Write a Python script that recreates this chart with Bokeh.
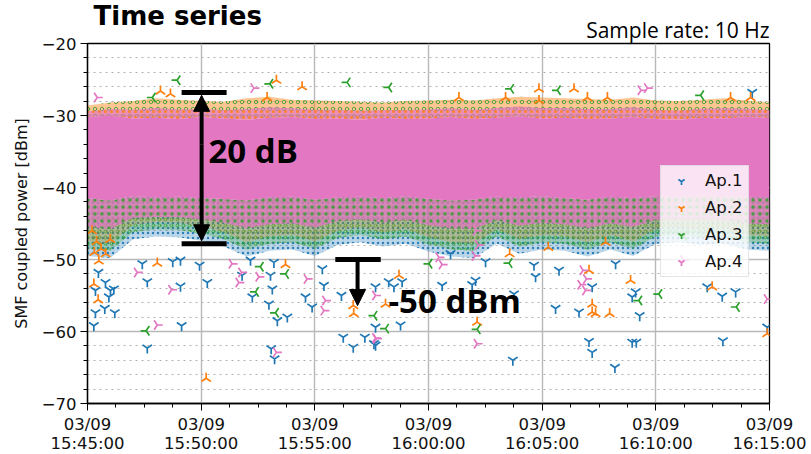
import numpy as np
import pandas as pd
from bokeh.plotting import figure
from bokeh.models import (Range1d, FixedTicker, DatetimeTickFormatter, Arrow, NormalHead,
                          Label, Legend, LegendItem, ColumnDataSource, Title, DatetimeAxis)
from bokeh.embed import file_html
from bokeh.resources import INLINE

# ---------------- data (minutes after 2021-03-09 15:45:00, dBm) ----------------
series_names = ["Ap.1", "Ap.2", "Ap.3", "Ap.4"]
colors = ["#1f77b4", "#ff7f0e", "#2ca02c", "#e377c2"]

# envelope of the dense 10 Hz cloud, sampled every minute
env_t = list(range(31))
core_hi = [-30.2, -30.0, -30.4, -30.3, -30.5, -30.2, -30.4, -30.6, -30.3, -30.2, -30.5,
           -30.4, -30.6, -30.3, -30.5, -30.4, -30.2, -30.5, -30.3, -30.1, -30.4, -30.3,
           -30.5, -30.4, -30.2, -30.5, -30.6, -30.3, -30.4, -30.2, -30.3]
core_lo = [-41.5, -41.8, -41.2, -41.4, -41.3, -41.5, -41.6, -41.8, -41.4, -41.3, -41.7,
           -41.4, -41.3, -41.5, -41.2, -41.6, -41.8, -41.7, -41.3, -41.4, -41.2, -41.5,
           -41.7, -41.3, -41.5, -41.2, -41.3, -41.1, -41.2, -41.3, -41.4]
fringe_hi = [-28.6, -28.2, -28.0, -27.6, -27.8, -28.0, -28.1, -27.6, -27.4, -27.8, -27.9,
             -28.0, -28.1, -28.2, -28.0, -27.9, -27.8, -27.9, -27.6, -27.4, -27.5, -27.6,
             -27.7, -27.8, -27.5, -27.9, -28.0, -27.8, -27.6, -27.9, -28.2]
fringe_lo = [-49.5, -49.8, -47.2, -46.8, -46.9, -47.4, -48.2, -49.6, -48.8, -48.6, -49.5,
             -48.0, -47.6, -48.2, -47.8, -48.9, -49.6, -49.8, -47.8, -49.2, -48.6, -48.8,
             -49.6, -48.6, -49.5, -47.8, -47.6, -47.9, -47.8, -48.6, -48.8]

ap1_t = [2.41, 3.75, 4.09, 4.93, 2.63, 4.09, 5.27, 0.48, 0.79, 1.01, 0.94, 1.16, 0.35, 0.35,
         0.76, 1.20, 0.28, 4.14, 2.63, 6.80, 7.17, 7.25, 8.08, 8.23, 11.25, 11.69, 12.20,
         12.67, 8.20, 8.05, 8.13, 7.98, 8.35, 8.79, 9.59, 9.88, 10.33, 10.40, 11.17, 12.67,
         13.77, 12.60, 12.67, 13.25, 13.48, 13.84, 15.97, 15.60, 17.07, 16.92, 17.51, 18.76,
         18.71, 19.64, 19.71, 20.74, 20.59, 21.62, 22.20, 22.06, 22.20, 23.23, 23.96, 24.11,
         24.29, 27.26, 27.92, 28.51, 23.96, 24.14, 23.20, 27.95, 29.90, 29.24]
ap1_v = [-50.6, -50.3, -50.1, -50.8, -53.1, -53.7, -53.2, -51.8, -53.2, -54.3, -55.2, -54.1,
         -54.3, -57.4, -56.8, -57.4, -59.2, -59.2, -62.3, -52.2, -50.1, -55.2, -62.4, -63.8,
         -60.8, -62.2, -60.8, -61.9, -50.4, -52.2, -54.1, -56.2, -58.5, -58.0, -55.2, -56.6,
         -51.3, -53.6, -55.0, -59.4, -59.1, -61.7, -53.8, -53.1, -53.8, -53.1, -49.2, -53.6,
         -52.9, -53.5, -50.3, -54.8, -64.0, -50.8, -52.4, -51.5, -56.8, -57.3, -53.8, -61.4,
         -62.9, -50.6, -55.2, -54.5, -57.8, -53.8, -55.1, -54.5, -61.5, -61.5, -65.0, -61.3,
         -59.4, -26.8]

ap2_t = [3.07, 0.28, 0.47, 5.22, 8.71, 11.69, 11.71, 13.11, 13.70, 17.14, 18.57, 20.27,
         22.06, 22.20, 22.20, 22.79, 23.89, 22.35, 22.97, 27.48, 29.90, 0.20, 0.40, 0.60,
         0.80, 0.50, 1.00, 0.30, 3.21, 3.65, 8.31, 9.44, 7.90, 19.86, 21.40, 19.86, 21.99,
         29.17, 28.29, 22.87, 16.34, 18.39]
ap2_v = [-50.5, -53.4, -55.6, -66.5, -50.7, -56.4, -57.5, -56.2, -52.2, -58.7, -49.2, -48.3,
         -51.5, -56.2, -57.3, -47.6, -52.9, -57.5, -57.5, -53.8, -60.3, -46.0, -47.5, -48.5,
         -49.2, -50.2, -47.2, -49.0, -26.6, -27.0, -25.1, -26.0, -27.5, -26.3, -26.3, -27.9,
         -27.5, -27.5, -27.5, -27.5, -27.5, -27.5]

ap3_t = [2.58, 7.39, 8.27, 8.71, 12.60, 13.11, 15.02, 17.14, 18.54, 24.25, 25.13, 28.54,
         26.23, 7.60, 3.94, 2.85, 8.02, 11.42, 13.25, 18.61, 20.67, 26.97]
ap3_v = [-59.9, -54.5, -57.4, -52.0, -57.8, -59.6, -50.6, -59.7, -50.5, -55.7, -54.8, -56.6,
         -46.7, -51.0, -25.1, -27.5, -25.6, -25.4, -26.1, -26.3, -26.5, -27.2]

ap4_t = [2.19, 3.70, 3.07, 6.66, 6.36, 6.78, 8.31, 12.71, 7.54, 9.66, 10.40, 10.47, 12.67,
         12.67, 15.46, 15.60, 17.14, 21.91, 26.23, 21.80, 21.95, 21.70, 17.10, 17.20, 17.05,
         29.90, 0.43, 7.32, 24.63, 24.35]
ap4_v = [-51.8, -54.2, -59.1, -53.2, -50.6, -51.8, -62.9, -61.0, -52.4, -52.7, -57.1, -55.7,
         -60.9, -55.0, -49.7, -50.7, -61.7, -54.3, -50.1, -51.5, -52.7, -53.5, -46.0, -48.0,
         -49.5, -55.5, -27.5, -26.2, -26.2, -26.5]

x_tick_min = [0, 5, 10, 15, 20, 25, 30]
y_ticks = [-70, -60, -50, -40, -30, -20]

# ---------------- helpers ----------------
T0_MS = pd.Timestamp("2021-03-09 15:45:00").value / 1e6


def ms(m):
    return T0_MS + np.asarray(m, dtype=float) * 60000.0


def msf(m):
    return float(T0_MS + float(m) * 60000.0)


p = figure(frame_width=682, frame_height=360, x_axis_type="datetime",
           x_range=Range1d(msf(0), msf(30)), y_range=Range1d(-70, -20),
           output_backend="svg", toolbar_location=None,
           min_border_left=87, min_border_right=42, min_border_top=43, min_border_bottom=0)
p.background_fill_color = "white"
p.border_fill_color = "white"
p.outline_line_color = "black"
p.outline_line_width = 1.3

# titles above the frame (stacked: spacer nearest the frame, then sample rate, then title)
p.add_layout(Title(text=" ", standoff=10.3, text_font="Open Sans", text_font_size="1px"), "above")
p.add_layout(Title(text="Sample rate: 10 Hz", align="right", standoff=-29.1, vertical_align="bottom",
                   text_font="Open Sans", text_font_size="21px", text_font_style="normal",
                   text_color="black"), "above")
p.add_layout(Title(text="Time series", align="left", offset=6, standoff=-4.5, vertical_align="bottom",
                   text_font="DejaVu Sans", text_font_size="26px", text_font_style="bold",
                   text_color="black"), "above")

# ticks
xt = FixedTicker(ticks=[msf(m) for m in x_tick_min],
                 minor_ticks=[msf(m) for m in np.arange(0, 30.01, 1.25)])
p.xaxis.ticker = xt
fmt_d = "%m/%d"
fmt_t = "%H:%M:%S"
p.xaxis.formatter = DatetimeTickFormatter(milliseconds=fmt_d, seconds=fmt_d, minsec=fmt_d,
                                          minutes=fmt_d, hourmin=fmt_d, hours=fmt_d, days=fmt_d)
ax2 = DatetimeAxis(ticker=FixedTicker(ticks=[msf(m) for m in x_tick_min], minor_ticks=[]),
                   formatter=DatetimeTickFormatter(milliseconds=fmt_t, seconds=fmt_t, minsec=fmt_t,
                                                   minutes=fmt_t, hourmin=fmt_t, hours=fmt_t,
                                                   days=fmt_t))
ax2.axis_line_color = None
ax2.major_tick_line_color = None
ax2.minor_tick_line_color = None
ax2.major_tick_out = 0
ax2.major_tick_in = 0
ax2.major_label_standoff = -3
ax2.major_label_text_font = "DejaVu Sans"
ax2.major_label_text_font_size = "16.5px"
ax2.major_label_text_color = "#111111"
p.add_layout(ax2, "below")

p.yaxis.ticker = FixedTicker(ticks=y_ticks, minor_ticks=list(range(-70, -19, 2)))
p.yaxis.major_label_overrides = {v: "\u2212%d" % abs(v) for v in y_ticks}

for ax in (p.xaxis[0], p.yaxis[0]):
    ax.axis_line_color = "black"
    ax.axis_line_width = 1.3
    ax.major_tick_line_color = "black"
    ax.minor_tick_line_color = "black"
    ax.major_tick_out = 7
    ax.major_tick_in = 0
    ax.minor_tick_out = 4
    ax.minor_tick_in = 0
    ax.major_label_text_font = "DejaVu Sans"
    ax.major_label_text_font_size = "16.5px"
    ax.major_label_text_color = "#111111"
    ax.major_label_standoff = 4
p.xaxis[0].major_label_standoff = 4

p.yaxis.axis_label = "SMF coupled power [dBm]"
p.yaxis.axis_label_text_font = "DejaVu Sans"
p.yaxis.axis_label_text_font_size = "16px"
p.yaxis.axis_label_text_font_style = "normal"
p.yaxis.axis_label_text_color = "#111111"
p.yaxis.axis_label_standoff = 8

p.xgrid.grid_line_color = "#b8b8b8"
p.xgrid.grid_line_width = 1.4
p.ygrid.grid_line_color = "#b8b8b8"
p.ygrid.grid_line_width = 1.4
p.ygrid.minor_grid_line_color = "#b0b0b0"
p.ygrid.minor_grid_line_dash = "dotted"
p.ygrid.minor_grid_line_width = 1

# ---------------- dense cloud (envelopes) ----------------
ex = ms(env_t)
lo = np.array(fringe_lo)
clo = np.array(core_lo)
chi = np.array(core_hi)
fhi = np.array(fringe_hi)
mid = (clo + lo) / 2
p.varea(x=ex, y1=lo, y2=clo, fill_color=colors[0], fill_alpha=0.30,
        hatch_pattern="dot", hatch_color=colors[0], hatch_scale=5, hatch_alpha=0.9)
p.varea(x=ex, y1=lo + 1.0, y2=clo, fill_color=colors[2], fill_alpha=0.25,
        hatch_pattern="ring", hatch_color=colors[2], hatch_scale=6, hatch_alpha=0.8)
p.varea(x=ex, y1=lo + 2.0, y2=clo, fill_color=colors[1], fill_alpha=0.2)
p.varea(x=ex, y1=mid, y2=clo, fill_color=colors[3], fill_alpha=0.75,
        hatch_pattern="dot", hatch_color=colors[2], hatch_scale=7, hatch_alpha=0.8)
p.varea(x=ex, y1=chi, y2=fhi, fill_color=colors[1], fill_alpha=0.45,
        hatch_pattern="ring", hatch_color=colors[2], hatch_scale=7, hatch_alpha=0.8)
p.varea(x=ex, y1=chi, y2=(chi + fhi) / 2, fill_color=colors[3], fill_alpha=0.7,
        hatch_pattern="dot", hatch_color=colors[1], hatch_scale=6, hatch_alpha=0.8)
p.varea(x=ex, y1=clo, y2=chi, fill_color=colors[3], fill_alpha=1.0)

# ---------------- individual samples ----------------
angles = [0.0, np.pi, -np.pi / 2, np.pi / 2]
data = [(ap1_t, ap1_v), (ap2_t, ap2_v), (ap3_t, ap3_v), (ap4_t, ap4_v)]
rends = []
for (tt, vv), c, a in zip(data, colors, angles):
    src = ColumnDataSource(dict(x=ms(tt), y=vv))
    r = p.scatter("x", "y", source=src, marker="y", size=11, line_color=c,
                  line_width=1.7, angle=a)
    rends.append(r)

legend = Legend(items=[LegendItem(label=n, renderers=[r]) for n, r in zip(series_names, rends)],
                location=(573, 126))
legend.margin = 0
legend.padding = 5
legend.spacing = 8
legend.glyph_width = 30
legend.glyph_height = 18
legend.label_height = 18
legend.label_standoff = 9
legend.label_text_font = "DejaVu Sans"
legend.label_text_font_size = "16.5px"
legend.label_text_color = "#111111"
legend.background_fill_color = "white"
legend.background_fill_alpha = 0.8
legend.border_line_color = "#cccccc"
legend.border_line_width = 1
p.add_layout(legend)

# ---------------- annotations ----------------
xa = 5.02
p.segment(x0=ms([4.14, 4.14]), y0=[-26.8, -47.8], x1=ms([6.12, 6.12]), y1=[-26.8, -47.8],
          line_color="black", line_width=5)
p.add_layout(Arrow(end=NormalHead(size=16, fill_color="black", line_color="black"),
                   x_start=msf(xa), y_start=-34.0, x_end=msf(xa), y_end=-27.2,
                   line_width=4, line_color="black"))
p.add_layout(Arrow(end=NormalHead(size=16, fill_color="black", line_color="black"),
                   x_start=msf(xa), y_start=-34.0, x_end=msf(xa), y_end=-47.4,
                   line_width=4, line_color="black"))
p.segment(x0=ms([10.9]), y0=[-50.0], x1=ms([12.9]), y1=[-50.0], line_color="black", line_width=5)
p.add_layout(Arrow(end=NormalHead(size=16, fill_color="black", line_color="black"),
                   x_start=msf(11.88), y_start=-50.0, x_end=msf(11.88), y_end=-56.4,
                   line_width=4, line_color="black"))

p.add_layout(Label(x=msf(5.32), y=-34.9, text="20 dB", text_font="Open Sans", text_color="black",
                   text_font_style="bold", text_font_size="33px", text_baseline="middle"))
p.add_layout(Label(x=msf(13.24), y=-55.7, text="-50 dBm", text_font="Open Sans", text_color="black",
                   text_font_style="bold", text_font_size="33px", text_baseline="middle"))

open("out.html", "w").write(file_html(p, INLINE))
